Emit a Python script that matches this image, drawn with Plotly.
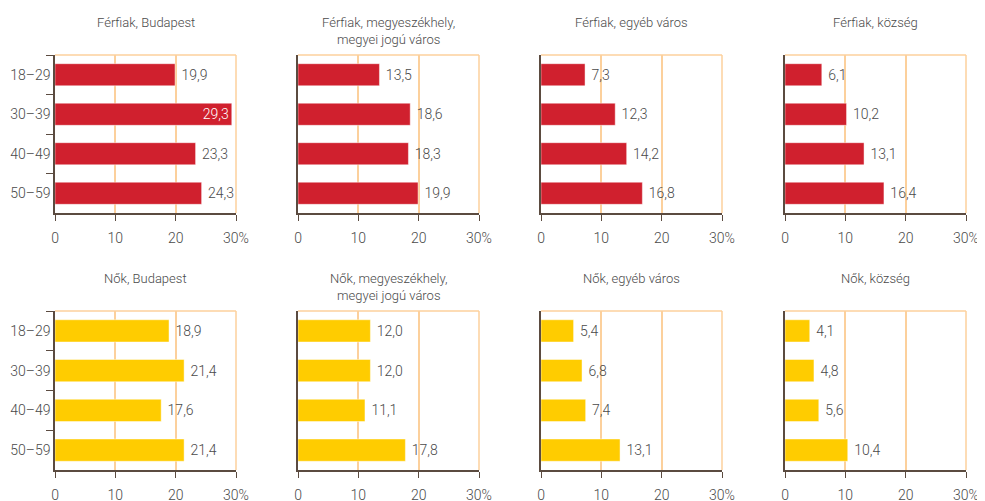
import plotly.graph_objects as go

age_groups = ["18–29", "30–39", "40–49", "50–59"]

titles_men = ["Férfiak, Budapest", "Férfiak, megyeszékhely,<br>megyei jogú város",
              "Férfiak, egyéb város", "Férfiak, község"]
titles_women = ["Nők, Budapest", "Nők, megyeszékhely,<br>megyei jogú város",
                "Nők, egyéb város", "Nők, község"]

men_budapest = [19.9, 29.3, 23.3, 24.3]
men_county_seat = [13.5, 18.6, 18.3, 19.9]
men_other_town = [7.3, 12.3, 14.2, 16.8]
men_village = [6.1, 10.2, 13.1, 16.4]

women_budapest = [18.9, 21.4, 17.6, 21.4]
women_county_seat = [12.0, 12.0, 11.1, 17.8]
women_other_town = [5.4, 6.8, 7.4, 13.1]
women_village = [4.1, 4.8, 5.6, 10.4]

x_tickvals = [0, 10, 20, 30]
x_ticktext = ["0", "10", "20", "30%"]

RED = "#d0202e"
YELLOW = "#ffcc00"
GRID = "#fcd09c"
AXIS = "#5b4b40"
TEXT = "#4a4a4a"
FONT = "Roboto"

W, H = 985, 501
OFF = 8  # page body margin offset
col_left = [55 - OFF, 298 - OFF, 541 - OFF, 785 - OFF]
plot_w = 181
rows_px = [(55 - OFF, 213 - OFF), (311 - OFF, 470 - OFF)]
title_top = [13 - OFF, 269 - OFF]

fig = go.Figure()

series_rows = [
    (titles_men, [men_budapest, men_county_seat, men_other_town, men_village], RED),
    (titles_women, [women_budapest, women_county_seat, women_other_town, women_village], YELLOW),
]

idx = 0
for r, (titles, series, color) in enumerate(series_rows):
    y0, y1 = rows_px[r]
    for c in range(4):
        idx += 1
        vals = series[c]
        xa = "x" if idx == 1 else f"x{idx}"
        ya = "y" if idx == 1 else f"y{idx}"
        positions = []
        tcolors = []
        for v in vals:
            if v > 27:
                positions.append("inside")
                tcolors.append("white")
            else:
                positions.append("outside")
                tcolors.append(TEXT)
        fig.add_trace(go.Bar(
            x=vals, y=age_groups, orientation="h",
            marker=dict(color=color, line=dict(color="rgba(255,255,255,0.45)", width=1)),
            width=0.56,
            texttemplate="\u00a0%{x:.1f}",
            textposition=positions,
            textfont=dict(family=FONT, size=14, color=tcolors, weight=300),
            insidetextanchor="end",
            cliponaxis=False,
            xaxis=xa, yaxis=ya, showlegend=False, hoverinfo="skip",
        ))
        l = col_left[c]
        xdom = [l / W, (l + plot_w) / W]
        ydom = [1 - y1 / H, 1 - y0 / H]
        xkey = "xaxis" if idx == 1 else f"xaxis{idx}"
        ykey = "yaxis" if idx == 1 else f"yaxis{idx}"
        fig.layout[xkey] = dict(
            domain=xdom, anchor=ya, range=[0, 30], automargin=False,
            tickvals=x_tickvals, ticktext=x_ticktext,
            showgrid=True, gridcolor=GRID, gridwidth=1.5, zeroline=False,
            showline=True, linecolor=AXIS, linewidth=1.5,
            ticks="outside", ticklen=6, tickcolor=AXIS, tickwidth=1.2,
            ticklabelstandoff=5,
            tickfont=dict(family=FONT, size=14, color=TEXT, weight=300),
            fixedrange=True,
        )
        fig.layout[ykey] = dict(
            domain=ydom, anchor=xa, type="category", automargin=False,
            categoryorder="array", categoryarray=age_groups,
            autorange="reversed",
            showgrid=False, zeroline=False,
            showline=True, linecolor=AXIS, linewidth=1.5,
            ticks="outside" if c == 0 else "", tickson="boundaries",
            ticklen=7, tickcolor=AXIS, tickwidth=1.2,
            showticklabels=(c == 0),
            tickfont=dict(family=FONT, size=14, color=TEXT, weight=300),
            fixedrange=True,
        )
        # light top and right border of the plot frame
        fig.add_shape(type="line", xref=f"{xa} domain", yref=f"{ya} domain",
                      x0=0, x1=1, y0=1, y1=1, line=dict(color=GRID, width=1.5),
                      layer="below")
        fig.add_shape(type="line", xref=f"{xa} domain", yref=f"{ya} domain",
                      x0=1, x1=1, y0=0, y1=1, line=dict(color=GRID, width=1.5),
                      layer="below")
        fig.add_annotation(
            text=titles[c], xref="paper", yref="paper",
            x=(l + plot_w / 2) / W, y=1 - title_top[r] / H,
            xanchor="center", yanchor="top", showarrow=False, align="center",
            font=dict(family=FONT, size=13, color=TEXT, weight=300),
        )

fig.update_layout(
    width=W, height=H,
    margin=dict(l=0, r=0, t=0, b=0),
    paper_bgcolor="white", plot_bgcolor="white",
    separators=", ",
    font=dict(family=FONT, color=TEXT),
    bargap=0.44,
)

fig.write_html("out.html")
